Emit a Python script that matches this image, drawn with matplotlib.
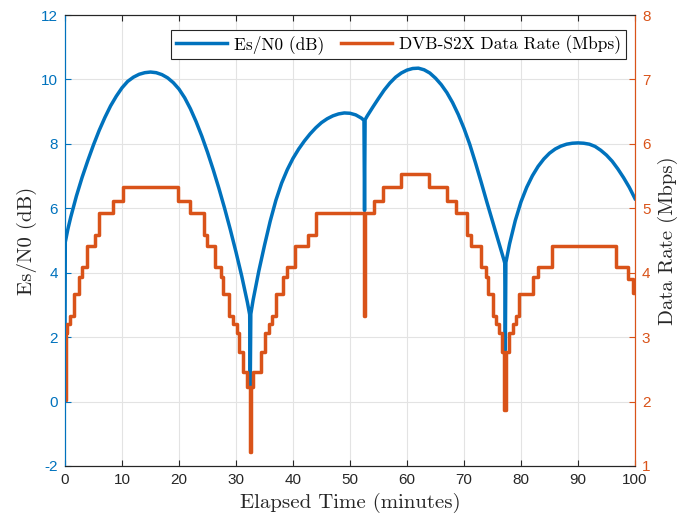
import matplotlib
matplotlib.use("Agg")
import matplotlib.pyplot as plt

plt.rcParams['font.family'] = ['Liberation Sans', 'DejaVu Sans']
plt.rcParams['axes.unicode_minus'] = False

BLUE = "#0072BD"
ORANGE = "#D95319"
SERIF = "cmr10"

# Es/N0 (dB) vs elapsed time (minutes)
es_t = [0, 0.05, 0.5, 1, 2, 3, 4, 5, 6, 7, 8, 9, 10, 11, 12, 13, 14, 15,
        16, 17, 18, 19, 20, 21, 22, 23, 24, 25, 26, 27, 28, 29, 30, 31, 32,
        32.4, 32.5, 32.6, 33, 34, 35, 36, 37, 38, 39, 40, 41, 42, 43, 44,
        45, 46, 47, 48, 49, 50, 51, 52, 52.45, 52.55, 52.65, 53, 54, 55, 56,
        57, 58, 59, 60, 61, 62, 63, 64, 65, 66, 67, 68, 69, 70, 71, 72, 73,
        74, 75, 76, 77, 77.15, 77.25, 77.35, 78, 79, 80, 81, 82, 83, 84, 85,
        86, 87, 88, 89, 90, 91, 92, 93, 94, 95, 96, 97, 98, 99, 100]
es = [2.1, 4.95, 5.35, 5.72, 6.38, 6.96, 7.48, 7.97, 8.42, 8.82, 9.18, 9.48,
      9.74, 9.94, 10.07, 10.16, 10.21, 10.23, 10.21, 10.15, 10.05, 9.9, 9.7,
      9.43, 9.09, 8.69, 8.24, 7.74, 7.2, 6.62, 6.0, 5.34, 4.64, 3.9, 3.08,
      2.7, 0.48, 2.72, 3.15, 4.05, 4.85, 5.6, 6.25, 6.78, 7.2, 7.55, 7.84,
      8.09, 8.31, 8.5, 8.66, 8.78, 8.87, 8.93, 8.96, 8.95, 8.9, 8.8, 8.73,
      5.93, 8.75, 8.86, 9.14, 9.41, 9.67, 9.89, 10.07, 10.2, 10.29, 10.34,
      10.35, 10.3, 10.2, 10.04, 9.84, 9.59, 9.28, 8.91, 8.48, 7.99, 7.42,
      6.82, 6.2, 5.6, 5.0, 4.4, 4.3, 1.6, 4.32, 4.9, 5.62, 6.2, 6.65, 7.01,
      7.3, 7.53, 7.71, 7.84, 7.93, 7.99, 8.02, 8.03, 8.02, 7.99, 7.92, 7.8,
      7.65, 7.46, 7.22, 6.95, 6.65, 6.3]

# DVB-S2X data rate (Mbps): time where each step starts, and its level
rate_t = [0, 0.25, 0.4, 0.88, 1.58, 2.46, 2.92, 3.92, 5.26, 6.0, 8.48, 10.23,
          19.9, 21.9, 24.3, 24.85, 26.3, 27.3, 27.8, 28.8, 29.4, 30.2, 30.45,
          31.15, 31.9, 32.4, 32.65, 33.0, 34.3, 35.1, 35.85, 36.4, 37.1, 38.3,
          38.9, 40.35, 42.7, 44.0, 52.4, 52.65, 54.2, 55.8, 58.9, 63.9, 66.96,
          68.6, 70.6, 71.2, 72.9, 73.9, 74.15, 75.1, 75.6, 76.2, 76.6, 77.1,
          77.35, 77.95, 78.65, 79.2, 79.7, 82.05, 83.0, 85.4, 96.7, 98.8, 99.7,
          100]
rate = [2.02, 3.07, 3.2, 3.33, 3.67, 3.93, 4.09, 4.42, 4.59, 4.92, 5.12, 5.33,
        5.12, 4.92, 4.59, 4.42, 4.09, 3.93, 3.67, 3.33, 3.2, 3.07, 2.77, 2.46,
        2.23, 1.22, 2.23, 2.46, 2.77, 3.07, 3.2, 3.33, 3.67, 3.93, 4.09, 4.42,
        4.59, 4.92, 3.33, 4.92, 5.12, 5.33, 5.53, 5.33, 5.12, 4.92, 4.59, 4.42,
        4.09, 3.93, 3.67, 3.33, 3.2, 3.07, 2.77, 1.87, 2.77, 3.07, 3.2, 3.33,
        3.67, 3.93, 4.09, 4.42, 4.09, 3.91, 3.68, 3.68]

x_ticks = list(range(0, 101, 10))
left_ticks = list(range(-2, 13, 2))
right_ticks = list(range(1, 9))

fig = plt.figure(figsize=(6.93, 5.18), dpi=100)
ax = fig.add_axes([0.0938, 0.1004, 0.8225, 0.8706])
ax2 = ax.twinx()

l1, = ax.plot(es_t, es, color=BLUE, lw=2.5, label="Es/N0 (dB)")
l2, = ax2.plot(rate_t, rate, color=ORANGE, lw=2.5, drawstyle="steps-post",
               label="DVB-S2X Data Rate (Mbps)")

ax.set_xlim(0, 100)
ax.set_ylim(-2, 12)
ax2.set_ylim(1, 8)
ax.set_xticks(x_ticks)
ax.set_yticks(left_ticks)
ax2.set_yticks(right_ticks)

ax.grid(True, color="#e3e3e3", lw=0.8)
ax.set_axisbelow(True)

ax.tick_params(axis="x", direction="in", length=4, labelsize=11,
               colors="#262626", pad=5)
ax.tick_params(axis="y", direction="in", length=4, labelsize=11,
               colors=BLUE, pad=5)
ax2.tick_params(axis="y", direction="in", length=4, labelsize=11,
                colors=ORANGE, pad=5)
ax.tick_params(top=True, which="both")

for a in (ax, ax2):
    a.spines["top"].set_color("#262626")
    a.spines["bottom"].set_color("#262626")
    a.spines["left"].set_color(BLUE)
    a.spines["right"].set_color(ORANGE)
    for s in a.spines.values():
        s.set_linewidth(0.8)

ax.set_xlabel("Elapsed Time (minutes)", family=SERIF, fontsize=15,
              color="#262626", labelpad=4)
ax.set_ylabel("Es/N0 (dB)", family=SERIF, fontsize=15, color="#262626",
              labelpad=3)
ax2.set_ylabel("Data Rate (Mbps)", family=SERIF, fontsize=15,
               color="#262626", labelpad=5)

leg = ax2.legend(handles=[l1, l2], loc="upper right", ncol=2,
                 bbox_to_anchor=(0.984, 0.967), borderaxespad=0,
                 prop={"family": SERIF, "size": 12.5}, frameon=True,
                 fancybox=False, framealpha=1, edgecolor="#262626",
                 handlelength=2.9, handletextpad=0.4, columnspacing=1.0,
                 borderpad=0.3)
leg.get_frame().set_linewidth(0.8)

fig.savefig("out.png", dpi=100)
